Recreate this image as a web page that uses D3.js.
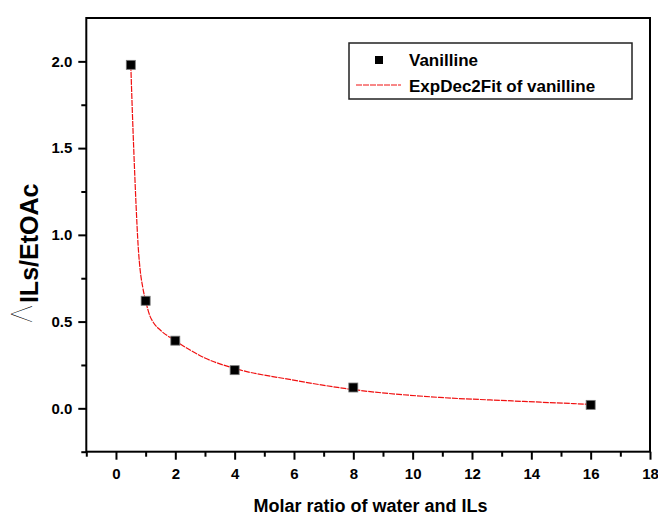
<!DOCTYPE html>
<html>
<head>
<meta charset="utf-8">
<script src="https://cdn.jsdelivr.net/npm/d3@7"></script>
<style>
  body { margin: 0; background: #fff; }
  text { font-family: "Liberation Sans", Arial, sans-serif; }
</style>
</head>
<body>
<div class="container"></div>
<script>
var ratio = [0.5, 1, 2, 4, 8, 16];
var lambdaVal = [1.98, 0.62, 0.39, 0.22, 0.12, 0.02];

// fitted curve
var fitX = [0.5, 0.55, 0.6, 0.67, 0.75, 0.82, 0.9, 1.0, 1.15, 1.26, 1.5, 2.0, 3.0, 4.0, 5.9, 8.0, 10.9, 13.2, 16.0];
var fitY = [1.98, 1.72, 1.49, 1.2, 0.93, 0.79, 0.7, 0.62, 0.53, 0.495, 0.45, 0.39, 0.29, 0.23, 0.165, 0.108, 0.063, 0.044, 0.023];

var xTicks = [0, 2, 4, 6, 8, 10, 12, 14, 16, 18];
var xMinor = [-1, 1, 3, 5, 7, 9, 11, 13, 15, 17];
var yTicks = [0, 0.5, 1.0, 1.5, 2.0];
var yMinor = [-0.25, 0.25, 0.75, 1.25, 1.75];

var seriesName = 'Vanilline';
var fitName = 'ExpDec2Fit of vanilline';

var translate = function (x, y) {
    return 'translate(' + x + ', ' + y + ')';
};

var visualize = function () {
    const WIDTH = 658, HEIGHT = 520;
    const LEFT = 86.3, RIGHT = 650, TOP = 18, BOTTOM = 451.7;

    var xScale = d3.scaleLinear().domain([-1, 18]).range([LEFT, RIGHT]);
    var yScale = d3.scaleLinear().domain([-0.25, 2.25]).range([BOTTOM, TOP]);

    var svg = d3.select('.container').append('svg')
        .attr('width', WIDTH).attr('height', HEIGHT);

    svg.append('rect').attr('width', WIDTH).attr('height', HEIGHT).attr('fill', '#fff');

    var styleAxis = function (g, size) {
        g.select('.domain').remove();
        g.selectAll('line').attr('stroke', '#000').attr('stroke-width', 2);
        g.selectAll('text').attr('font-size', size).attr('font-weight', 'bold').attr('fill', '#000');
    };

    // x axis
    svg.append('g').attr('transform', translate(0, BOTTOM))
        .call(d3.axisBottom(xScale).tickValues(xTicks).tickSize(8).tickPadding(9).tickSizeOuter(0))
        .call(styleAxis, 15);
    svg.append('g').attr('transform', translate(0, BOTTOM))
        .call(d3.axisBottom(xScale).tickValues(xMinor).tickSize(5).tickFormat('').tickSizeOuter(0))
        .call(styleAxis, 15);

    // y axis
    svg.append('g').attr('transform', translate(LEFT, 0))
        .call(d3.axisLeft(yScale).tickValues(yTicks).tickFormat(d3.format('.1f')).tickSize(8).tickPadding(6).tickSizeOuter(0))
        .call(styleAxis, 15);
    svg.append('g').attr('transform', translate(LEFT, 0))
        .call(d3.axisLeft(yScale).tickValues(yMinor).tickSize(5).tickFormat('').tickSizeOuter(0))
        .call(styleAxis, 15);

    // frame
    svg.append('rect')
        .attr('x', LEFT).attr('y', TOP)
        .attr('width', RIGHT - LEFT).attr('height', BOTTOM - TOP)
        .attr('fill', 'none').attr('stroke', '#000').attr('stroke-width', 2);

    // fit line
    var line = d3.line()
        .x(function (d, i) { return xScale(d); })
        .y(function (d, i) { return yScale(fitY[i]); })
        .curve(d3.curveMonotoneX);
    svg.append('path').datum(fitX)
        .attr('d', line)
        .attr('fill', 'none').attr('stroke', '#f01010')
        .attr('stroke-width', 1.2).attr('stroke-dasharray', '6,1');

    // points
    svg.selectAll('rect.pt').data(ratio).enter().append('rect')
        .attr('class', 'pt')
        .attr('x', function (d) { return xScale(d) - 4.5; })
        .attr('y', function (d, i) { return yScale(lambdaVal[i]) - 4.5; })
        .attr('width', 9).attr('height', 9)
        .attr('fill', '#000').attr('stroke', '#777').attr('stroke-width', 0.8);

    // legend
    var lg = svg.append('g');
    lg.append('rect').attr('x', 349).attr('y', 43).attr('width', 283).attr('height', 56)
        .attr('fill', '#fff').attr('stroke', '#222').attr('stroke-width', 1.5);
    lg.append('rect').attr('x', 375).attr('y', 56).attr('width', 8).attr('height', 8).attr('fill', '#000');
    lg.append('text').attr('x', 409).attr('y', 66).text(seriesName)
        .attr('font-size', 17).attr('font-weight', 'bold');
    lg.append('line').attr('x1', 356).attr('x2', 401).attr('y1', 85).attr('y2', 85)
        .attr('stroke', '#f01010').attr('stroke-width', 1).attr('stroke-dasharray', '6,1');
    lg.append('text').attr('x', 409).attr('y', 92).text(fitName)
        .attr('font-size', 17).attr('font-weight', 'bold');

    // axis titles
    svg.append('text')
        .attr('x', (229 + 512) / 2).attr('y', 512)
        .attr('text-anchor', 'middle')
        .attr('font-size', 18).attr('font-weight', 'bold')
        .text('Molar ratio of water and ILs');

    var yt = svg.append('text').attr('transform', translate(32, 323) + ' rotate(-90)');
    yt.append('tspan').attr('font-family', 'Inter, "DejaVu Sans"').attr('font-size', 28)
        .attr('font-weight', 100).text('\u039B');
    yt.append('tspan').attr('dx', 2).attr('dy', 6).attr('font-size', 25).attr('font-weight', 'bold')
        .text('ILs/EtOAc');
};

window.onload = visualize;
</script>
</body>
</html>
